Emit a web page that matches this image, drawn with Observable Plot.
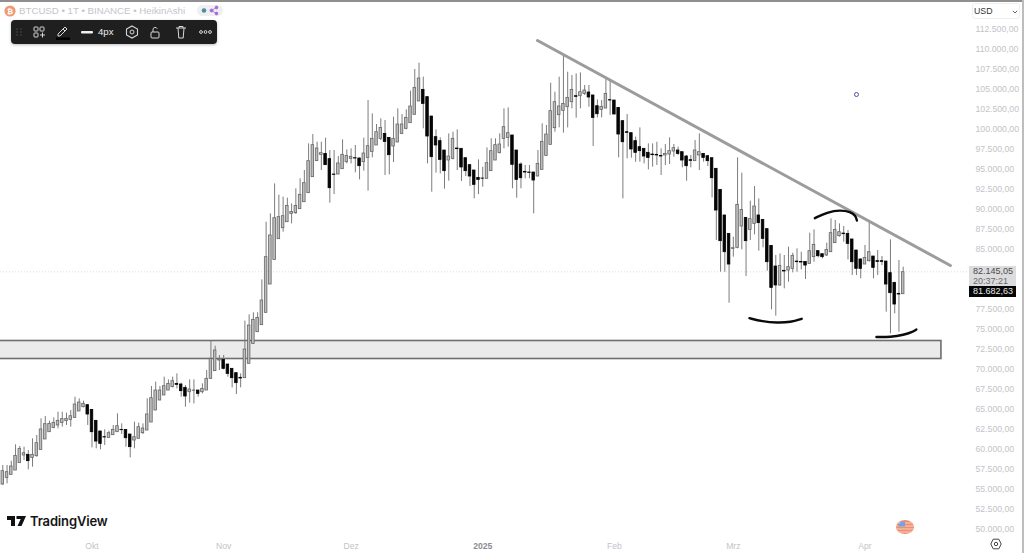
<!DOCTYPE html>
<html>
<head>
<meta charset="utf-8">
<script src="https://cdn.jsdelivr.net/npm/d3@7"></script>
<script src="https://cdn.jsdelivr.net/npm/@observablehq/plot@0.6"></script>
<style>
html,body{margin:0;padding:0;background:#fff;width:1024px;height:553px;overflow:hidden;font-family:"Liberation Sans",Arial,sans-serif}
#wrap{position:relative;width:1024px;height:553px;overflow:hidden}
#wrap svg{display:block}
.abs{position:absolute;white-space:nowrap}
</style>
</head>
<body>
<div id="wrap"></div>
<script>
// Daily Heikin-Ashi candles, in thousands of USD, from 10 Sep 2024
const firstDay = "2024-09-10";
const openK = [
55.56,56.39,56.77,57.31,58.23,59.19,59.27,58.89,59.10,59.89,
61.19,62.10,62.64,62.94,63.27,63.48,63.64,63.89,64.69,65.23,
65.48,64.89,63.52,62.19,61.48,61.39,61.73,62.10,62.39,62.39,
61.81,61.06,61.27,61.98,62.31,63.31,64.81,66.06,66.69,67.31,
67.73,68.14,68.06,67.64,67.10,67.27,67.31,67.10,67.31,68.77,
69.73,71.06,71.14,70.56,70.02,69.48,68.90,68.85,70.65,73.14,
74.60,75.48,77.02,80.56,83.64,86.23,87.60,88.35,89.39,89.48,
89.98,90.85,91.98,93.98,95.98,96.77,96.89,96.23,94.31,94.31,
94.98,95.85,96.27,96.35,96.31,95.85,96.39,97.14,97.94,98.77,
99.39,98.89,97.81,98.31,99.39,100.02,100.73,101.77,103.44,104.89,
103.98,101.56,98.98,98.48,97.31,96.06,96.27,97.56,97.52,96.35,
95.48,94.81,93.89,93.81,93.77,94.73,96.06,96.98,98.77,98.89,
99.19,97.31,95.56,94.64,94.56,94.56,94.06,94.89,96.64,98.02,
100.10,101.73,102.27,102.73,103.35,104.10,104.10,104.39,104.56,104.19,
102.85,102.39,102.56,103.60,103.56,102.64,100.98,99.60,99.48,98.48,
97.73,97.52,97.02,96.81,96.77,96.64,96.69,96.81,97.19,97.31,
97.10,96.56,96.10,95.98,96.69,96.89,96.60,96.35,95.02,92.39,
89.19,86.89,85.02,85.14,87.81,88.89,87.39,88.14,89.19,88.64,
87.48,85.39,82.81,80.44,82.27,82.31,82.52,83.43,83.39,83.39,
83.14,83.98,84.73,84.35,84.19,84.60,85.73,86.60,86.93,86.89,
86.19,84.81,83.69,83.06,83.48,84.06,83.48,83.48,83.43,81.98,
80.77,79.39,79.35];
const closeK = [
57.23,57.10,57.81,59.14,60.02,59.48,58.48,59.27,60.73,62.44,
63.10,63.14,63.27,63.52,63.73,63.77,64.10,65.56,65.81,65.64,
64.31,62.10,60.93,60.64,61.44,61.98,62.39,62.85,62.35,61.35,
60.23,61.48,62.73,62.56,64.31,66.35,67.31,67.31,67.85,68.14,
68.48,68.02,67.23,66.56,67.44,67.31,66.89,67.52,68.77,71.27,
72.31,71.19,70.02,69.39,68.85,68.23,68.81,72.43,75.43,76.14,
76.39,78.56,83.98,86.69,88.85,88.98,89.10,90.39,89.64,90.39,
91.77,93.23,95.98,97.98,97.56,96.98,95.48,92.60,94.27,95.69,
96.77,96.64,96.52,96.31,95.35,96.94,97.85,98.77,99.60,100.14,
98.39,96.73,98.77,100.56,100.56,101.39,102.81,105.14,106.31,103.14,
99.06,96.48,97.94,96.14,94.73,96.56,98.77,97.48,95.19,94.73,
94.06,93.02,93.64,93.79,95.73,97.23,97.98,98.06,100.23,99.48,
95.52,93.64,93.85,94.56,94.52,93.56,95.64,98.39,99.31,102.23,
103.35,102.81,103.14,103.89,104.89,104.02,104.60,104.81,103.94,101.39,
101.85,102.77,104.39,103.56,101.81,99.31,98.35,99.52,97.44,97.02,
97.23,96.56,96.39,96.73,96.69,96.56,96.89,97.23,97.60,96.89,
96.06,95.35,96.02,97.31,97.10,96.39,95.98,93.85,89.81,85.98,
84.60,83.06,85.10,90.52,89.89,85.98,88.73,90.31,88.23,86.27,
83.35,80.14,80.44,82.89,82.19,82.73,84.14,83.35,83.31,82.93,
84.73,85.52,84.10,83.98,84.89,86.98,87.39,87.10,86.85,85.64,
83.35,82.52,82.52,83.89,84.60,82.64,83.39,83.39,80.56,79.48,
78.06,79.31,82.10];
const highK = [
57.94,57.94,58.48,60.52,60.31,60.23,59.81,61.27,61.69,63.77,
64.06,63.48,63.89,64.60,64.60,64.48,64.81,66.48,66.27,65.98,
65.56,64.89,63.52,62.19,62.39,62.23,62.94,64.39,63.14,62.39,
61.81,63.35,63.23,63.14,66.27,67.81,68.35,67.81,68.98,68.64,
68.98,69.39,68.23,67.94,68.64,68.64,67.31,68.14,69.81,73.48,
72.85,71.69,71.69,70.56,70.02,69.48,69.39,75.98,76.77,77.02,
77.02,81.14,88.35,89.39,93.14,91.73,91.48,91.35,90.64,92.52,
93.77,94.81,98.14,99.31,98.35,98.35,98.85,97.31,97.31,96.56,
98.64,97.39,97.52,97.94,96.39,98.85,103.56,101.89,100.56,101.27,
101.06,98.89,101.48,102.52,101.81,102.39,104.73,107.44,108.23,106.48,
104.06,101.56,99.89,98.89,97.31,99.39,99.60,99.89,97.52,96.35,
95.48,94.81,96.14,95.23,97.64,98.77,98.77,99.39,102.52,102.64,
99.19,97.31,95.77,95.44,95.44,94.56,97.31,100.64,100.44,105.73,
104.60,106.48,109.31,107.10,106.69,106.89,107.02,105.44,105.44,104.19,
103.64,103.56,106.35,105.98,103.56,102.64,100.98,101.81,99.48,98.98,
100.14,97.52,98.14,98.14,98.35,97.52,98.06,98.89,98.06,97.73,
97.10,96.69,96.69,98.56,99.39,96.89,96.69,96.35,95.02,92.39,
89.19,86.89,86.48,96.39,94.48,88.89,90.98,92.81,91.27,88.64,
87.48,85.39,84.19,84.39,84.19,85.23,84.48,85.02,84.60,83.39,
86.98,87.39,84.73,84.35,85.73,88.77,88.56,88.14,87.81,87.31,
86.19,84.81,83.77,85.44,88.56,84.06,84.81,84.06,83.43,86.14,
80.77,83.56,82.73];
const lowK = [
55.44,55.64,56.77,57.31,58.23,58.56,57.39,57.73,58.98,59.89,
61.19,62.10,62.52,62.52,62.73,62.94,62.73,63.89,64.69,65.14,
62.94,60.14,60.02,59.89,60.44,61.39,61.69,62.10,61.81,60.23,
58.89,60.02,61.27,61.81,62.31,63.31,64.81,66.06,66.69,67.31,
67.64,67.52,66.48,65.23,65.73,65.64,66.48,66.89,67.31,68.77,
69.73,69.81,69.89,68.98,67.64,66.81,67.64,68.85,70.65,73.14,
74.60,75.48,77.02,80.56,83.64,86.23,87.10,88.35,88.14,89.31,
89.98,90.85,91.98,93.98,95.98,94.81,95.44,90.73,91.81,94.31,
94.98,95.64,95.64,94.52,93.64,94.73,92.23,96.39,97.94,98.56,
94.19,94.27,95.81,98.31,99.31,99.89,100.73,101.77,103.44,100.02,
95.64,92.10,94.48,94.39,92.48,93.48,96.14,94.81,93.44,94.06,
92.81,91.27,91.81,92.73,93.77,94.73,96.06,96.89,97.52,97.73,
92.52,91.35,92.52,93.77,93.77,89.39,94.06,94.89,96.64,98.02,
99.60,100.14,99.48,100.14,102.52,101.35,102.52,104.19,102.73,97.81,
101.39,101.39,102.56,101.69,101.81,96.39,91.27,96.27,96.35,95.85,
95.85,95.64,94.89,95.23,95.44,94.19,95.44,95.56,96.48,96.69,
95.15,93.48,95.15,95.98,94.81,95.85,95.31,91.39,86.06,82.10,
82.10,78.23,83.98,85.02,84.89,81.56,86.06,86.77,84.73,85.14,
82.23,77.39,76.60,80.35,80.02,80.85,82.02,82.10,82.39,81.19,
83.14,83.35,83.89,83.77,84.06,84.60,85.73,86.48,85.85,83.64,
81.69,81.69,81.27,83.06,83.35,81.27,81.69,82.93,77.10,74.39,
76.89,74.60,79.35];

// Drawn annotations: day offset from firstDay, price in thousands of USD
const trendDays = [125.9, 223.1];
const trendPrices = [111.06, 82.94];
const zoneDays = [-2, 221];
const zonePrices = [71.25, 73.5];
const arc1Days = [175.8,178.8,182.3,185.5,188.1];
const arc1Prices = [76.35,75.94,75.77,75.85,76.27];
const arc2Days = [191.2,194.1,197.2,199.6,200.8,201.1];
const arc2Prices = [88.85,89.60,89.89,89.64,89.19,88.56];
const arc3Days = [205.7,209.0,212.2,214.1,215.1];
const arc3Prices = [74.0,73.98,74.27,74.60,74.94];
const pointDay = 201;
const pointPrice = 104.31;
const lastPrice = 82.145;

// Tick labels
const monthDates = ["2024-10-01","2024-11-01","2024-12-01","2025-02-01","2025-03-01","2025-04-01"];
const monthLabels = ["Okt","Nov","Dez","Feb","Mrz","Apr"];
const yearDates = ["2025-01-01"];
const yearLabels = ["2025"];
const priceTicks = [50,52.5,55,57.5,60,62.5,65,67.5,70,72.5,75,77.5,85,87.5,90,92.5,95,97.5,100,102.5,105,107.5,110,112.5];

const t0 = +new Date(firstDay + "T00:00Z");
const day = d => new Date(t0 + d * 864e5);
const candles = openK.map((o, i) => ({
  i, date: day(i), left: day(i - 0.3), right: day(i + 0.3),
  open: o, close: closeK[i], high: highK[i], low: lowK[i],
  top: Math.max(o, closeK[i]), bottom: Math.min(o, closeK[i]),
  up: closeK[i] >= o
}));
const series = (ds, ps) => ds.map((d, i) => ({x: day(d), y: ps[i]}));
const priceFmt = v => (v * 1000).toLocaleString("de-DE", {minimumFractionDigits: 2, maximumFractionDigits: 2});
const arcOpts = {x: "x", y: "y", stroke: "#0b0b0b", strokeWidth: 2.4, curve: "basis", strokeLinecap: "round"};

const plot = Plot.plot({
  width: 1024, height: 553,
  marginLeft: 0, marginRight: 52, marginTop: 0, marginBottom: 14,
  style: {background: "#fff", fontFamily: "'Liberation Sans', Arial, sans-serif"},
  x: {type: "utc", domain: [day(0), day(212)], range: [2.3, 902.7]},
  y: {type: "linear", domain: [50, 112.5], range: [528.5, 28.5]},
  marks: [
    Plot.ruleY([lastPrice], {stroke: "#dcdcdc", strokeWidth: 1, strokeDasharray: "1,2"}),
    Plot.rect([0], {
      x1: () => day(zoneDays[0]), x2: () => day(zoneDays[1]),
      y1: () => zonePrices[0], y2: () => zonePrices[1],
      fill: "#ebebeb", stroke: "#6e6e6e", strokeWidth: 1.6
    }),
    Plot.ruleX(candles, {x: "date", y1: "low", y2: "high", stroke: "#7c7c7c", strokeWidth: 1}),
    Plot.rect(candles.filter(d => d.up), {
      x1: "left", x2: "right", y1: "bottom", y2: "top",
      fill: "#bdbdbd", stroke: "#666666", strokeWidth: 0.8
    }),
    Plot.rect(candles.filter(d => !d.up), {
      x1: "left", x2: "right", y1: "bottom", y2: "top",
      fill: "#050505", stroke: "#050505", strokeWidth: 0.8
    }),
    Plot.line(series(trendDays, trendPrices), {x: "x", y: "y", stroke: "#9c9c9c", strokeWidth: 3}),
    Plot.line(series(arc1Days, arc1Prices), arcOpts),
    Plot.line(series(arc2Days, arc2Prices), arcOpts),
    Plot.line(series(arc3Days, arc3Prices), arcOpts),
    Plot.dot([0], {x: () => day(pointDay), y: () => pointPrice, r: 2, fill: "#fff", stroke: "#4b4f9e", strokeWidth: 1}),
    Plot.axisY({
      anchor: "right", ticks: priceTicks, tickSize: 0, tickPadding: 3, label: null,
      tickFormat: priceFmt, fill: "#c3c3c8", fontSize: 8.7
    }),
    Plot.axisX({
      anchor: "bottom", ticks: monthDates.map(d => new Date(d + "T00:00Z")), tickSize: 0, tickPadding: 3, label: null,
      tickFormat: d => monthLabels[monthDates.indexOf(d.toISOString().slice(0, 10))],
      fill: "#c3c3c8", fontSize: 8.6
    }),
    Plot.axisX({
      anchor: "bottom", ticks: yearDates.map(d => new Date(d + "T00:00Z")), tickSize: 0, tickPadding: 3, label: null,
      tickFormat: () => yearLabels[0], fill: "#8c8c92", fontSize: 8.6, fontWeight: 700
    })
  ]
});
const wrap = document.getElementById("wrap");
wrap.appendChild(plot);

const overlay = `
<div class="abs" style="left:0;top:0;width:1024px;height:1.5px;background:#8f8f8f"></div>
<div class="abs" style="left:1022px;top:0;width:1.5px;height:553px;background:#bdbdbd"></div>

<svg class="abs" style="left:4px;top:5px" width="12" height="12" viewBox="0 0 12 12"><circle cx="6" cy="6" r="5.6" fill="#ee9a72"/><text x="6" y="8.6" font-size="7.5" fill="#fff" text-anchor="middle" font-weight="700">₿</text></svg>
<div class="abs" style="left:19px;top:4px;font-size:9.7px;line-height:14px;color:#c4c4cc">BTCUSD • 1T • BINANCE • HeikinAshi</div>
<div class="abs" style="left:197px;top:5px;width:26px;height:11px;border-radius:6px;background:#eef0f2"></div>
<svg class="abs" style="left:197px;top:5px" width="26" height="11" viewBox="0 0 26 11"><circle cx="7" cy="5.5" r="2.3" fill="#4f8f9c"/><g fill="#a768d8" stroke="#a768d8" stroke-width=".8"><circle cx="14.5" cy="5.5" r="1.5"/><circle cx="19.5" cy="2.5" r="1.4"/><circle cx="19.5" cy="8.5" r="1.4"/><path d="M14.5 5.5L19.5 2.5M14.5 5.5L19.5 8.5" fill="none"/></g></svg>

<div class="abs" style="left:11px;top:20px;width:206px;height:24px;border-radius:4px;background:#1f1f1f;box-shadow:0 1px 3px rgba(0,0,0,.25)"></div>
<svg class="abs" style="left:11px;top:20px" width="206" height="24" viewBox="0 0 206 24" fill="none" stroke="#d8d8d8" stroke-width="1">
  <g fill="#555" stroke="none"><circle cx="6" cy="9" r=".7"/><circle cx="10" cy="9" r=".7"/><circle cx="6" cy="12" r=".7"/><circle cx="10" cy="12" r=".7"/><circle cx="6" cy="15" r=".7"/><circle cx="10" cy="15" r=".7"/></g>
  <rect x="23" y="7" width="4" height="4" rx=".7"/><rect x="29" y="7" width="4" height="4" rx=".7"/><rect x="23" y="13" width="4" height="4" rx=".7"/><path d="M29 15h5M31.5 12.5v5"/>
  <path d="M47 14l7-7 2 2-7 7h-2zM52 9l2 2"/><rect x="45" y="17.5" width="14" height="2.4" fill="#000" stroke="none"/>
  <rect x="70" y="11" width="12" height="2.4" rx="1" fill="#f0f0f0" stroke="none"/>
  <path d="M121 6l5.5 3v6l-5.5 3-5.5-3V9z" stroke-width="1.1"/><circle cx="121" cy="12" r="2"/>
  <rect x="140" y="12" width="8" height="6" rx="1"/><path d="M142 12V9.5a2.2 2.2 0 0 1 4.2-.8"/>
  <path d="M165 8h10M167 8l.8 10h4.4l.8-10M168 8V6.5h4V8"/>
  <g><circle cx="190" cy="12" r="1.4"/><circle cx="194.5" cy="12" r="1.4"/><circle cx="199" cy="12" r="1.4"/></g>
</svg>
<div class="abs" style="left:98px;top:26px;font-size:9.6px;line-height:12px;color:#ededed">4px</div>

<div class="abs" style="left:972px;top:3px;width:48px;height:16px;border:1px solid #eeeeee;border-radius:3px;background:#fff;box-sizing:border-box"></div>
<div class="abs" style="left:974px;top:5px;font-size:8.8px;line-height:12px;color:#333">USD</div>
<svg class="abs" style="left:1012px;top:10px" width="6" height="4" viewBox="0 0 6 4"><path d="M.8 .8L3 3l2.2-2.2" fill="none" stroke="#666" stroke-width="1"/></svg>

<div class="abs" style="left:969px;top:266px;width:47px;height:20px;background:#dcdcde"></div>
<div class="abs" style="left:973px;top:266px;font-size:9px;line-height:10px;color:#4a4a4a">82.145,05</div>
<div class="abs" style="left:973px;top:276px;font-size:9px;line-height:10px;color:#6a6a6a">20:37:21</div>
<div class="abs" style="left:969px;top:286px;width:47px;height:11px;background:#060606"></div>
<div class="abs" style="left:973px;top:286px;font-size:9px;line-height:11px;color:#e8e8e8">81.682,63</div>

<svg class="abs" style="left:7px;top:516px" width="20" height="11" viewBox="0 0 20 11" fill="#111"><path d="M0 0h8v10H4V4H0zM9.5 0h9.5l-4.5 10H10.5l3.2-7H9.5z"/></svg>
<div class="abs" style="left:30px;top:513px;font-family:Inter,sans-serif;font-size:13px;line-height:17px;font-weight:600;color:#141414;letter-spacing:-.15px">TradingView</div>

<svg class="abs" style="left:895px;top:519px" width="20" height="16" viewBox="0 0 20 16"><ellipse cx="10" cy="8" rx="9" ry="7" fill="#ef8f70"/><path d="M2 4h16M1.5 7h17M1.5 10h17M3 13h14" stroke="#f8d9cc" stroke-width=".9"/><path d="M3 7.5a6 5 0 0 1 7-5v5z" fill="#6ea5e8"/></svg>
<svg class="abs" style="left:990px;top:538px" width="12" height="12" viewBox="0 0 12 12" fill="none" stroke="#444" stroke-width="1"><path d="M3.2 1.2h5.6L11.2 6 8.8 10.8H3.2L.8 6z"/><circle cx="6" cy="6" r="1.7"/></svg>
`;
wrap.insertAdjacentHTML("beforeend", overlay);
</script>
</body>
</html>
